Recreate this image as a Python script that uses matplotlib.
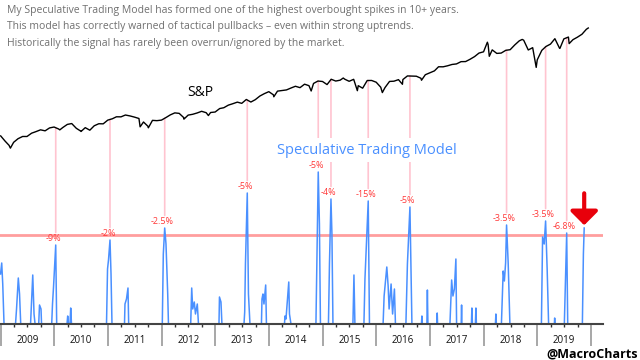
import matplotlib
matplotlib.use("Agg")
import matplotlib.pyplot as plt
from matplotlib.patches import ConnectionPatch
from matplotlib.transforms import blended_transform_factory
import numpy as np
import pandas as pd

# S&P 500 month-end closes, Jan 2009 .. Nov 2019
sp_close = [
    826, 735, 798, 873, 919, 919, 987, 1021, 1057, 1036, 1096, 1115,
    1074, 1104, 1169, 1187, 1089, 1031, 1102, 1049, 1141, 1183, 1181, 1258,
    1286, 1327, 1326, 1364, 1345, 1321, 1292, 1219, 1131, 1253, 1247, 1258,
    1312, 1366, 1408, 1398, 1310, 1362, 1379, 1407, 1441, 1412, 1416, 1426,
    1498, 1515, 1569, 1598, 1631, 1606, 1686, 1633, 1682, 1757, 1806, 1848,
    1783, 1859, 1872, 1884, 1924, 1960, 1931, 2003, 1972, 2018, 2068, 2059,
    1995, 2105, 2068, 2086, 2107, 2063, 2104, 1972, 1920, 2079, 2080, 2044,
    1940, 1932, 2060, 2065, 2097, 2099, 2174, 2171, 2168, 2126, 2199, 2239,
    2279, 2364, 2363, 2384, 2412, 2423, 2470, 2472, 2519, 2575, 2648, 2674,
    2824, 2714, 2641, 2648, 2705, 2718, 2816, 2902, 2914, 2712, 2760, 2507,
    2704, 2784, 2834, 2946, 2752, 2942, 2980, 2926, 2977, 3038, 3141,
]
# intra-month turning points
sp_extra_dates = [
    "2009-01-02", "2009-03-09", "2010-02-08", "2010-07-02", "2011-08-08",
    "2011-10-03", "2012-06-01", "2012-11-15", "2014-02-03", "2014-10-15",
    "2015-05-21", "2015-08-25", "2016-02-11", "2016-06-27", "2016-11-04",
    "2018-01-26", "2018-02-08", "2018-09-20", "2018-12-24", "2019-06-03",
    "2019-08-05", "2019-12-13",
]
sp_extra_close = [
    931, 677, 1056, 1022, 1119,
    1099, 1278, 1353, 1742, 1862,
    2131, 1868, 1829, 2001, 2085,
    2873, 2581, 2931, 2351, 2744,
    2844, 3168,
]

# Speculative Trading Model
model_t = [
    2009.000, 2009.022, 2009.041, 2009.065,
    2009.279, 2009.298, 2009.331, 2009.354, 2009.376,
    2009.559, 2009.600, 2009.624, 2009.643,
    2009.711, 2009.726, 2009.754, 2009.764,
    2009.953, 2009.968, 2009.987, 2010.028, 2010.046,
    2010.238, 2010.251, 2010.266, 2010.294, 2010.307, 2010.322,
    2010.974, 2010.993, 2011.011, 2011.039, 2011.058, 2011.076,
    2011.309, 2011.318, 2011.346, 2011.374, 2011.387,
    2012.013, 2012.032, 2012.058, 2012.082, 2012.114, 2012.128,
    2012.542, 2012.561, 2012.580, 2012.609, 2012.631, 2012.665, 2012.687,
    2013.069, 2013.078, 2013.106, 2013.124,
    2013.535, 2013.548, 2013.562, 2013.596, 2013.618, 2013.646,
    2013.860, 2013.870, 2013.888, 2013.907, 2013.939, 2013.953,
    2014.289, 2014.298, 2014.317, 2014.369, 2014.382, 2014.410,
    2014.875, 2014.894, 2014.918, 2014.940, 2014.959,
    2015.108, 2015.127, 2015.155, 2015.173, 2015.192,
    2015.564, 2015.583, 2015.601,
    2015.769, 2015.788, 2015.816, 2015.849, 2015.872,
    2016.126, 2016.145, 2016.195, 2016.220, 2016.238, 2016.275, 2016.303, 2016.337, 2016.356,
    2016.551, 2016.579, 2016.626, 2016.644, 2016.663,
    2016.840, 2016.849, 2016.858, 2016.942, 2016.951, 2016.961,
    2017.128, 2017.134, 2017.141,
    2017.371, 2017.403, 2017.427, 2017.454, 2017.482, 2017.495,
    2017.581, 2017.588, 2017.594,
    2017.771, 2017.780, 2017.790, 2017.845, 2017.855, 2017.864,
    2018.218, 2018.227, 2018.236,
    2018.330, 2018.363, 2018.385, 2018.408, 2018.426, 2018.456, 2018.488,
    2019.075, 2019.097, 2019.127, 2019.153, 2019.182, 2019.209,
    2019.316, 2019.322, 2019.329,
    2019.502, 2019.512, 2019.531, 2019.546, 2019.565,
    2019.838, 2019.857, 2019.872,
]
model_v = [
    50, 61, 40, 0,
    0, 15, 46, 30, 0,
    0, 49, 10, 0,
    0, 19, 15, 0,
    0, 20, 37, 79, 0,
    0, 8, 0, 0, 16, 0,
    0, 55, 64, 84, 50, 0,
    0, 20, 25, 36, 0,
    0, 70, 96, 80, 30, 0,
    0, 36, 15, 22, 10, 20, 0,
    0, 27, 22, 0,
    0, 12, 60, 131, 30, 0,
    0, 25, 30, 20, 39, 0,
    0, 8, 5, 42, 10, 0,
    0, 70, 152, 100, 0,
    0, 60, 125, 90, 0,
    0, 49, 0,
    0, 45, 80, 123, 0,
    0, 28, 57, 38, 15, 40, 10, 35, 0,
    0, 60, 117, 60, 0,
    0, 8, 0, 0, 34, 0,
    0, 11, 0,
    0, 44, 28, 35, 65, 0,
    0, 19, 0,
    0, 16, 0, 0, 16, 0,
    0, 10, 0,
    0, 53, 43, 61, 99, 61, 0,
    0, 87, 80, 103, 55, 0,
    0, 6, 0,
    0, 20, 60, 91, 0,
    0, 70, 96,
]
threshold = 89

# past signals and the pullback that followed
sig_t = [2010.028, 2011.039, 2012.058, 2013.596, 2014.918, 2015.155,
         2015.849, 2016.626, 2018.426, 2019.153, 2019.546]
sig_v = [79, 84, 96, 131, 152, 125, 123, 117, 99, 103, 91]
sig_labels = ["-9%", "-2%", "-2.5%", "-5%", "-5%", "-4%",
              "-15%", "-5%", "-3.5%", "-3.5%", "-6.8%"]
latest_t, latest_v = 2019.872, 96

years = list(range(2009, 2020))
header = [
    "My Speculative Trading Model has formed one of the highest overbought spikes in 10+ years.",
    "This model has correctly warned of tactical pullbacks \u2013 even within strong uptrends.",
    "Historically the signal has rarely been overrun/ignored by the market.",
]


def to_year(d):
    d = pd.to_datetime(d)
    return d.year + (d.dayofyear - 1) / np.where(d.is_leap_year, 366, 365)


month_ends = pd.date_range("2009-01-01", periods=len(sp_close), freq="MS") + pd.offsets.MonthEnd(0)
sp = pd.DataFrame({
    "t": np.r_[to_year(month_ends), to_year(pd.DatetimeIndex(sp_extra_dates))],
    "v": np.r_[sp_close, sp_extra_close],
}).sort_values("t")

plt.rcParams["font.family"] = ["Open Sans", "DejaVu Sans"]

fig = plt.figure(figsize=(6.4, 3.6), dpi=100)
ax = fig.add_axes([0, 0.1, 0.942, 0.9])
ax2 = ax.twinx()

ax.set_xlim(2008.99, 2020.22)
ax.set_ylim(0, 324)
ax2.set_ylim(-2968, 3748)

ax.axhline(threshold, color="#ff9e9e", lw=2, zorder=1)
ax.plot(model_t, model_v, color="#4a90ff", lw=1.1, zorder=2)

ax2.plot(sp["t"], sp["v"], color="black", lw=1.0, zorder=4)

sp_at_sig = np.interp(sig_t, sp["t"], sp["v"])
for t, v, s, lab in zip(sig_t, sig_v, sp_at_sig, sig_labels):
    con = ConnectionPatch(xyA=(t, v), coordsA=ax.transData,
                          xyB=(t, s), coordsB=ax2.transData,
                          color="#ffc4d0", lw=1.2, shrinkA=9, shrinkB=0)
    con.set_clip_on(False)
    con.set_zorder(2)
    ax2.add_artist(con)
    ax2.annotate(lab, xy=(t, v), xycoords=ax.transData, xytext=(-1.5, 4.5),
                 textcoords="offset points", ha="center", va="center",
                 color="#ff3838", fontsize=6.5, zorder=6)

ax.annotate("", xy=(latest_t, latest_v), xytext=(0, 25), textcoords="offset points",
            arrowprops=dict(arrowstyle="-|>,head_width=0.6,head_length=0.6",
                            color="#e8000b", lw=3, mutation_scale=14,
                            shrinkA=0, shrinkB=2))

ax2.text(0.609, 0.537, "Speculative Trading Model", transform=ax2.transAxes,
         ha="center", va="center", fontsize=10.5, color="#4a90ff", zorder=5,
         bbox=dict(facecolor="white", edgecolor="none", pad=3))

# x axis: long grey year separators, short quarter ticks, labels mid-year
ax.set_xticks(years + [2020])
ax.set_xticklabels([])
ax.set_xticks(np.arange(2009, 2020.01, 0.25), minor=True)
ax.tick_params(axis="x", which="major", direction="out", length=16,
               width=1.3, color="#a0a0a0")
ax.tick_params(axis="x", which="minor", direction="out", length=2.2,
               width=1, color="#333333")
trans = blended_transform_factory(ax.transData, ax.transAxes)
for y in years:
    ax.text(y + 0.5, -0.05, str(y), transform=trans, ha="center", va="center",
            fontsize=7, color="#111111")

ax.set_yticks([])
ax2.set_yticks([])
for side in ["top", "left", "right"]:
    ax.spines[side].set_visible(False)
for side in ax2.spines:
    ax2.spines[side].set_visible(False)
ax.spines["bottom"].set_color("#444444")
ax.spines["bottom"].set_linewidth(1.5)

for i, line in enumerate(header):
    fig.text(0.011, 0.972 - i * 0.047, line, ha="left", va="center",
             fontsize=7.5, color="#707070")

fig.text(0.3125, 0.742, "S&P", ha="center", va="center", fontsize=10, color="black")
fig.text(0.996, 0.017, "@MacroCharts", ha="right", va="center", fontsize=9,
         fontweight="bold", color="black")

fig.savefig("out.png", dpi=100)
